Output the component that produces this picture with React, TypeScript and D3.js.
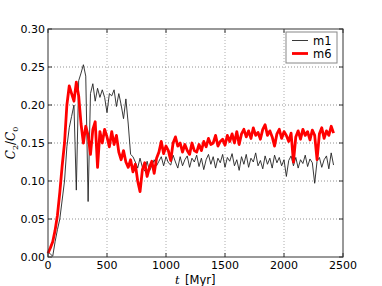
import React from "react";
import * as d3 from "d3";

const dt = 20;

const m1Values = [
  0.007, 0.004, 0.001, 0.02, 0.036, 0.05, 0.075, 0.1, 0.145, 0.17,
  0.185, 0.2, 0.088, 0.232, 0.242, 0.253, 0.238, 0.073, 0.215, 0.228,
  0.205, 0.222, 0.21, 0.22, 0.21, 0.19, 0.215, 0.212, 0.22, 0.198,
  0.215, 0.2, 0.182, 0.208, 0.175, 0.135, 0.132, 0.125, 0.117, 0.13,
  0.118, 0.113, 0.126, 0.113, 0.12, 0.128, 0.12, 0.126, 0.132, 0.12,
  0.132, 0.124, 0.121, 0.134, 0.125, 0.117, 0.132, 0.12, 0.128, 0.133,
  0.118, 0.13, 0.125, 0.134, 0.119, 0.13, 0.115, 0.128, 0.135, 0.122,
  0.132, 0.117, 0.13, 0.124, 0.135, 0.118, 0.131, 0.126, 0.136, 0.12,
  0.128, 0.114, 0.132, 0.122, 0.135, 0.118, 0.13, 0.125, 0.137, 0.12,
  0.127, 0.116, 0.133, 0.122, 0.13, 0.117, 0.134, 0.124, 0.131, 0.12,
  0.128, 0.106, 0.127, 0.133, 0.12, 0.131, 0.117, 0.128, 0.123, 0.134,
  0.119, 0.129, 0.124, 0.097, 0.126, 0.131, 0.118, 0.128, 0.133, 0.116,
  0.137, 0.121,
];

const m6Values = [
  0.005, 0.012, 0.02, 0.035, 0.055, 0.085, 0.12, 0.15, 0.2, 0.225,
  0.215, 0.205, 0.23, 0.212, 0.175, 0.15, 0.172, 0.16, 0.135, 0.168,
  0.178, 0.118, 0.165, 0.15, 0.168, 0.158, 0.145, 0.165, 0.148, 0.16,
  0.138, 0.128, 0.14, 0.125, 0.118, 0.128, 0.112, 0.122, 0.1, 0.086,
  0.115, 0.124, 0.106, 0.118, 0.126, 0.11, 0.13, 0.138, 0.152, 0.136,
  0.146, 0.14, 0.127, 0.15, 0.158, 0.146, 0.15, 0.138, 0.148, 0.14,
  0.135, 0.15, 0.14, 0.138, 0.148, 0.14, 0.152, 0.145, 0.156, 0.148,
  0.15, 0.16, 0.146, 0.152, 0.155, 0.147, 0.16, 0.152, 0.162, 0.15,
  0.165, 0.148, 0.162, 0.168, 0.158, 0.166, 0.156, 0.17, 0.16, 0.164,
  0.155, 0.168, 0.174, 0.16, 0.166, 0.158, 0.146, 0.162, 0.168, 0.156,
  0.165, 0.16, 0.152, 0.163, 0.125, 0.158, 0.166, 0.155, 0.168, 0.16,
  0.165, 0.154, 0.167, 0.16, 0.128, 0.162, 0.17, 0.156, 0.166, 0.16,
  0.172, 0.163,
];

const xTicks = [0, 500, 1000, 1500, 2000, 2500];
const yTicks = [0, 0.05, 0.1, 0.15, 0.2, 0.25, 0.3];

const seriesNames = ["m1", "m6"];
const seriesColors = ["#222", "#ff0000"];
const seriesWidths = [0.9, 2.8];

const W = 382;
const H = 286;
const margin = { top: 29, right: 39, bottom: 29, left: 48 };

export default function App() {
  const ref = React.useRef<SVGSVGElement>(null);

  React.useEffect(() => {
    const svg = d3.select(ref.current);
    svg.selectAll("*").remove();

    const x = d3
      .scaleLinear()
      .domain([0, 2500])
      .range([margin.left, W - margin.right]);
    const y = d3
      .scaleLinear()
      .domain([0, 0.3])
      .range([H - margin.bottom, margin.top]);

    const font = "DejaVu Sans, sans-serif";

    // grid
    const grid = svg.append("g");
    xTicks.slice(1, -1).forEach((t) => {
      grid
        .append("line")
        .attr("x1", x(t))
        .attr("x2", x(t))
        .attr("y1", y(0))
        .attr("y2", y(0.3))
        .attr("stroke", "#999")
        .attr("stroke-width", 0.8)
        .attr("stroke-dasharray", "1,2");
    });
    yTicks.slice(1, -1).forEach((t) => {
      grid
        .append("line")
        .attr("x1", x(0))
        .attr("x2", x(2500))
        .attr("y1", y(t))
        .attr("y2", y(t))
        .attr("stroke", "#777")
        .attr("stroke-width", 0.8)
        .attr("stroke-dasharray", "1,2");
    });

    // lines
    const line = d3
      .line<number>()
      .x((_, i) => x(i * dt))
      .y((d) => y(d));

    [m1Values, m6Values].forEach((vals, k) => {
      svg
        .append("path")
        .datum(vals)
        .attr("d", line)
        .attr("fill", "none")
        .attr("stroke", seriesColors[k])
        .attr("stroke-width", seriesWidths[k])
        .attr("stroke-linejoin", "round");
    });

    // frame
    svg
      .append("rect")
      .attr("x", x(0))
      .attr("y", y(0.3))
      .attr("width", x(2500) - x(0))
      .attr("height", y(0) - y(0.3))
      .attr("fill", "none")
      .attr("stroke", "#333")
      .attr("stroke-width", 1);

    // ticks inward
    xTicks.forEach((t) => {
      svg.append("line").attr("x1", x(t)).attr("x2", x(t))
        .attr("y1", y(0)).attr("y2", y(0) - 4).attr("stroke", "#333");
      svg.append("line").attr("x1", x(t)).attr("x2", x(t))
        .attr("y1", y(0.3)).attr("y2", y(0.3) + 4).attr("stroke", "#333");
      svg
        .append("text")
        .attr("x", x(t))
        .attr("y", y(0) + 12)
        .attr("text-anchor", "middle")
        .attr("font-family", font)
        .attr("font-size", 11)
        .text(String(t));
    });
    yTicks.forEach((t) => {
      svg.append("line").attr("x1", x(0)).attr("x2", x(0) + 4)
        .attr("y1", y(t)).attr("y2", y(t)).attr("stroke", "#333");
      svg.append("line").attr("x1", x(2500)).attr("x2", x(2500) - 4)
        .attr("y1", y(t)).attr("y2", y(t)).attr("stroke", "#333");
      svg
        .append("text")
        .attr("x", x(0) - 3)
        .attr("y", y(t) + 4)
        .attr("text-anchor", "end")
        .attr("font-family", font)
        .attr("font-size", 11)
        .text(d3.format(".2f")(t));
    });

    // axis labels
    svg
      .append("text")
      .attr("x", 175)
      .attr("y", H - 2.5)
      .attr("font-family", "DejaVu Serif, serif")
      .attr("font-style", "italic")
      .attr("font-size", 11.5)
      .text("t");
    svg
      .append("text")
      .attr("x", 185)
      .attr("y", H - 2.5)
      .attr("font-family", font)
      .attr("font-size", 11.5)
      .text("[Myr]");

    const yl = svg
      .append("text")
      .attr("transform", `translate(15,${(y(0) + y(0.3)) / 2}) rotate(-90)`)
      .attr("text-anchor", "middle")
      .attr("font-family", "DejaVu Serif, serif")
      .attr("font-size", 12);
    yl.append("tspan").attr("font-style", "italic").text("C");
    yl.append("tspan").attr("font-size", 8).attr("dy", 3).text("2");
    yl.append("tspan").attr("dy", -3).text("/");
    yl.append("tspan").attr("font-style", "italic").text("C");
    yl.append("tspan").attr("font-size", 8).attr("dy", 3).text("0");

    // legend
    const lg = svg.append("g");
    lg.append("rect")
      .attr("x", 286)
      .attr("y", 32)
      .attr("width", 51)
      .attr("height", 31)
      .attr("fill", "#fff")
      .attr("stroke", "#888")
      .attr("stroke-width", 1);
    seriesNames.forEach((n, i) => {
      const cy = 40.5 + i * 13;
      lg.append("line")
        .attr("x1", 292)
        .attr("x2", 308)
        .attr("y1", cy)
        .attr("y2", cy)
        .attr("stroke", seriesColors[i])
        .attr("stroke-width", seriesWidths[i]);
      lg.append("text")
        .attr("x", 313)
        .attr("y", cy + 4.2)
        .attr("font-family", font)
        .attr("font-size", 11.5)
        .text(n);
    });
  }, []);

  return (
    <svg
      ref={ref}
      width={W}
      height={H}
      style={{ position: "absolute", left: 0, top: 0, background: "#fff" }}
    />
  );
}
